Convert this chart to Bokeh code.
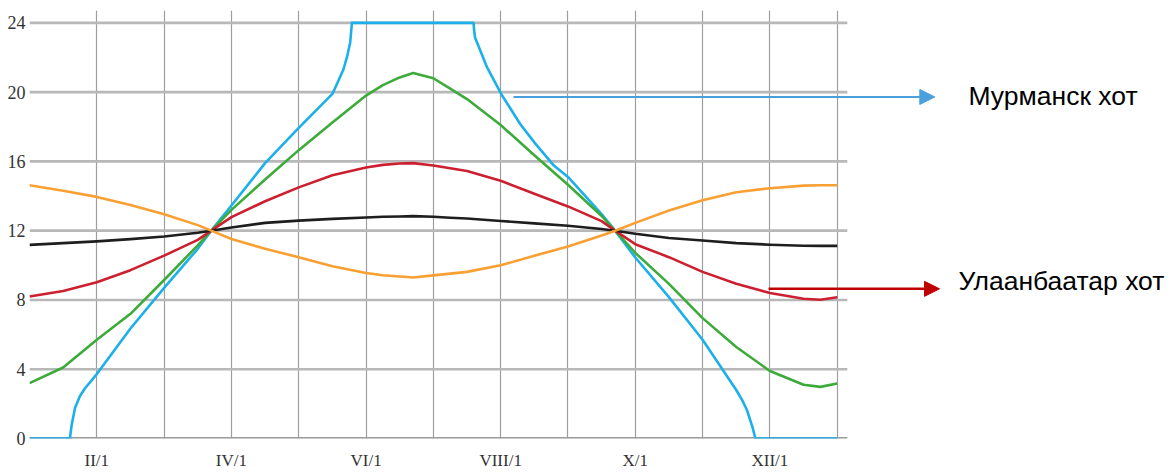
from bokeh.plotting import figure
from bokeh.models import Range1d, FixedTicker, Label, Arrow, NormalHead
from bokeh.embed import file_html
from bokeh.resources import INLINE

# ---------------- data ----------------
months = [0, 0.5, 1, 1.5, 2, 2.5, 2.7, 3, 3.5, 4, 4.5, 5, 5.25, 5.5, 5.7, 6, 6.25,
          6.5, 7, 7.5, 8, 8.5, 8.7, 9, 9.5, 10, 10.5, 11, 11.5, 11.75, 12]

black_hours = [11.18, 11.28, 11.38, 11.51, 11.66, 11.88, 12.0, 12.18, 12.45, 12.58,
               12.68, 12.76, 12.80, 12.82, 12.84, 12.80, 12.75, 12.70, 12.56, 12.42,
               12.28, 12.10, 12.0, 11.82, 11.58, 11.43, 11.28, 11.19, 11.13, 11.12, 11.12]

orange_hours = [14.62, 14.30, 13.95, 13.48, 12.95, 12.32, 12.0, 11.52, 10.95, 10.47,
                9.95, 9.56, 9.43, 9.35, 9.30, 9.42, 9.52, 9.62, 10.0, 10.55, 11.08,
                11.72, 12.0, 12.45, 13.16, 13.75, 14.22, 14.45, 14.60, 14.62, 14.62]

red_hours = [8.20, 8.52, 9.02, 9.72, 10.56, 11.47, 12.0, 12.78, 13.70, 14.50,
             15.20, 15.65, 15.80, 15.88, 15.90, 15.76, 15.60, 15.45, 14.88, 14.13,
             13.40, 12.55, 12.0, 11.22, 10.47, 9.62, 8.93, 8.40, 8.07, 8.01, 8.16]

green_hours = [3.20, 4.10, 5.70, 7.20, 9.15, 11.15, 12.0, 13.20, 14.95, 16.65,
               18.25, 19.80, 20.40, 20.85, 21.10, 20.80, 20.20, 19.60, 18.10, 16.35,
               14.65, 12.85, 12.0, 10.72, 8.93, 6.95, 5.28, 3.90, 3.10, 2.98, 3.17]

blue_months = [0, 0.60, 0.627, 0.677, 0.75, 0.825, 1, 1.5, 2, 2.5, 2.7, 3, 3.5, 4,
               4.5, 4.566, 4.665, 4.715, 4.764, 4.79, 6.597, 6.605, 6.62, 6.67, 6.80,
               7.01, 7.29, 7.5, 7.79, 8, 8.5, 8.7, 9, 9.5, 10, 10.5, 10.59, 10.66,
               10.74, 10.765, 10.785, 12]
blue_hours = [0, 0, 0.8, 1.78, 2.45, 2.9, 3.72, 6.35, 8.7, 10.95, 12.0, 13.45, 15.9,
              17.93, 19.9, 20.45, 21.32, 22.0, 22.85, 24, 24, 23.6, 23.14, 22.66,
              21.41, 19.88, 18.16, 17.1, 15.76, 15.1, 12.96, 12.0, 10.45, 8.16, 5.7,
              2.8, 2.2, 1.63, 0.67, 0.29, 0, 0]

y_ticks = [0, 4, 8, 12, 16, 20, 24]
month_lines = list(range(13))
x_tick_pos = [1, 3, 5, 7, 9, 11]
x_tick_labels = ["II/1", "IV/1", "VI/1", "VIII/1", "X/1", "XII/1"]

murmansk_label = "Мурманск хот"
ulaanbaatar_label = "Улаанбаатар хот"

# ---------------- layout ----------------
W, H = 1171, 472
BL, BR, BT, BB = 29, 0, 10, 33
PX_PER_MONTH = 67.31
PX_PER_HOUR = 17.36
x_max = (W - BL - BR) / PX_PER_MONTH
y_max = (H - BT - BB) / PX_PER_HOUR
GRID_OVERHANG = 0.15

p = figure(width=W, height=H, x_range=Range1d(0, x_max), y_range=Range1d(0, y_max),
           min_border_left=BL, min_border_right=BR, min_border_top=BT,
           min_border_bottom=BB, toolbar_location=None, output_backend="svg")
p.outline_line_color = None
p.background_fill_color = "white"
p.border_fill_color = "white"

# vertical grid (month lines)
p.xgrid.ticker = FixedTicker(ticks=month_lines)
p.xgrid.grid_line_color = "#9e9e9e"
p.xgrid.grid_line_width = 1.2
p.ygrid.visible = False

# horizontal grid lines limited to the plot area
gx1 = month_lines[-1] + GRID_OVERHANG
p.segment(x0=[0] * (len(y_ticks) - 1), y0=y_ticks[1:], x1=[gx1] * (len(y_ticks) - 1),
          y1=y_ticks[1:], line_color="#b8b8b8", line_width=2.6)
p.segment(x0=[0], y0=[y_ticks[0]], x1=[gx1], y1=[y_ticks[0]],
          line_color="#9a9a9a", line_width=3.2)

# axes
for ax in (p.xaxis, p.yaxis):
    ax.axis_line_color = None
    ax.major_tick_line_color = None
    ax.minor_tick_line_color = None
    ax.major_tick_out = 0
    ax.major_tick_in = 0
    ax.minor_tick_out = 0
    ax.major_label_text_font = "Liberation Serif"
    ax.major_label_text_color = "#333333"

p.yaxis.ticker = FixedTicker(ticks=y_ticks)
p.yaxis.major_label_standoff = 4
p.yaxis.major_label_text_font_size = "18px"

p.xaxis.ticker = FixedTicker(ticks=x_tick_pos)
p.xaxis.major_label_overrides = {t: l for t, l in zip(x_tick_pos, x_tick_labels)}
p.xaxis.major_label_standoff = 12
p.xaxis.major_label_text_font_size = "17px"

# curves
LW = 2.6
p.line(blue_months, blue_hours, line_color="#1cb0ea", line_width=LW, line_join="round")
p.line(months, green_hours, line_color="#3cab3a", line_width=LW, line_join="round")
p.line(months, red_hours, line_color="#cc2030", line_width=LW, line_join="round")
p.line(months, black_hours, line_color="#1e1e1e", line_width=LW, line_join="round")
p.line(months, orange_hours, line_color="#f9a033", line_width=LW, line_join="round")

# annotations
BLUE_ARROW = "#4a9fdc"
RED_ARROW = "#c00000"
p.add_layout(Arrow(end=NormalHead(size=15, fill_color=BLUE_ARROW, line_color=BLUE_ARROW),
                   x_start=7.19, y_start=19.72, x_end=13.45, y_end=19.72,
                   line_color=BLUE_ARROW, line_width=2))
p.add_layout(Arrow(end=NormalHead(size=15, fill_color=RED_ARROW, line_color=RED_ARROW),
                   x_start=10.98, y_start=8.64, x_end=13.52, y_end=8.64,
                   line_color=RED_ARROW, line_width=2.5))
p.add_layout(Label(x=13.95, y=19.78, text=murmansk_label, text_font="Liberation Sans",
                   text_font_size="26.5px", text_baseline="middle", text_color="black"))
p.add_layout(Label(x=13.80, y=9.12, text=ulaanbaatar_label, text_font="Liberation Sans",
                   text_font_size="26.5px", text_baseline="middle", text_color="black"))

open("out.html", "w").write(file_html(p, INLINE))
